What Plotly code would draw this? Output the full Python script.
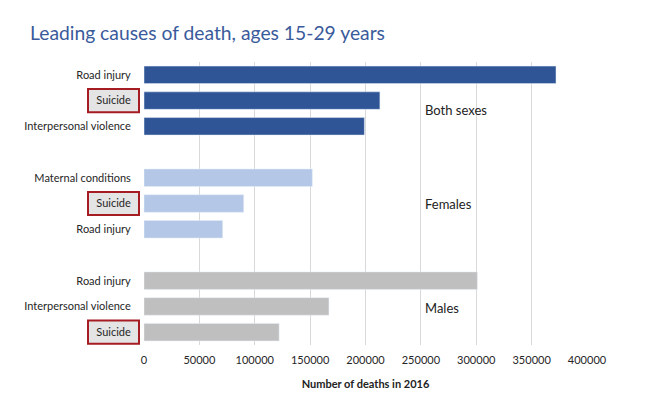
import plotly.graph_objects as go

groups = ["Both sexes", "Females", "Males"]
causes = [
    ["Road injury", "Suicide", "Interpersonal violence"],
    ["Maternal conditions", "Suicide", "Road injury"],
    ["Road injury", "Interpersonal violence", "Suicide"],
]
deaths = [
    [372000, 213000, 199000],
    [152000, 90000, 71000],
    [301000, 167000, 122000],
]
colors = ["#2f5597", "#b4c7e7", "#bfbfbf"]
x_ticks = [0, 50000, 100000, 150000, 200000, 250000, 300000, 350000, 400000]

FONT = "Lato"
fig = go.Figure()
tickvals, ticktext = [], []
shapes, annotations = [], []
L, R, T, B = 144, 65, 62, 54
W, H = 652, 399
label_offsets = [0.38, 0.0, 0.08]
for g, (gname, cs, vs, col) in enumerate(zip(groups, causes, deaths, colors)):
    ys = [g * 4 + i for i in range(len(cs))]
    fig.add_trace(go.Bar(x=vs, y=ys, orientation="h", marker_color=col,
                         width=0.68, showlegend=False, name=gname))
    tickvals += ys
    ticktext += cs
    annotations.append(dict(x=252000, y=ys[1] + label_offsets[g], xref="x", yref="y", text=gname,
                            showarrow=False, xanchor="left",
                            font=dict(family=FONT, size=13, color="#222222")))
    for y, c in zip(ys, cs):
        if c == "Suicide":
            shapes.append(dict(type="rect", xref="paper", yref="y", layer="below",
                               x0=(88 - L) / (W - L - R), x1=(139 - L) / (W - L - R),
                               y0=y - 0.45, y1=y + 0.45,
                               fillcolor="#e4e4e4", line=dict(color="#a51d22", width=2)))

fig.update_layout(
    width=W, height=H,
    margin=dict(l=L, r=R, t=T, b=B),
    plot_bgcolor="white", paper_bgcolor="white",
    font=dict(family=FONT, size=11, color="#262626"),
    title=dict(text="Leading causes of death, ages 15-29 years", x=30 / W, xanchor="left",
               y=1 - 33 / H, yanchor="middle",
               font=dict(family=FONT, size=19.3, color="#3a5b9b")),
    shapes=shapes, annotations=annotations,
)
fig.update_xaxes(range=[0, 400000], tickvals=x_ticks, ticktext=[str(v) for v in x_ticks],
                 showgrid=True, gridcolor="#d9d9d9", gridwidth=1, zeroline=False,
                 showline=False, ticks="outside", ticklen=5, tickcolor="rgba(0,0,0,0)",
                 tickfont=dict(size=11), automargin=False,
                 title=dict(text="<b>Number of deaths in 2016</b>", standoff=15,
                            font=dict(family=FONT, size=11, color="#222222")))
fig.update_yaxes(range=[10.5, -0.5], tickvals=tickvals, ticktext=ticktext,
                 showgrid=False, zeroline=False, showline=False,
                 ticks="outside", ticklen=10, tickcolor="rgba(0,0,0,0)",
                 tickfont=dict(size=11), automargin=False)

fig.write_html("out.html", config={"displayModeBar": False},
               post_script="document.body.style.margin='0';")
